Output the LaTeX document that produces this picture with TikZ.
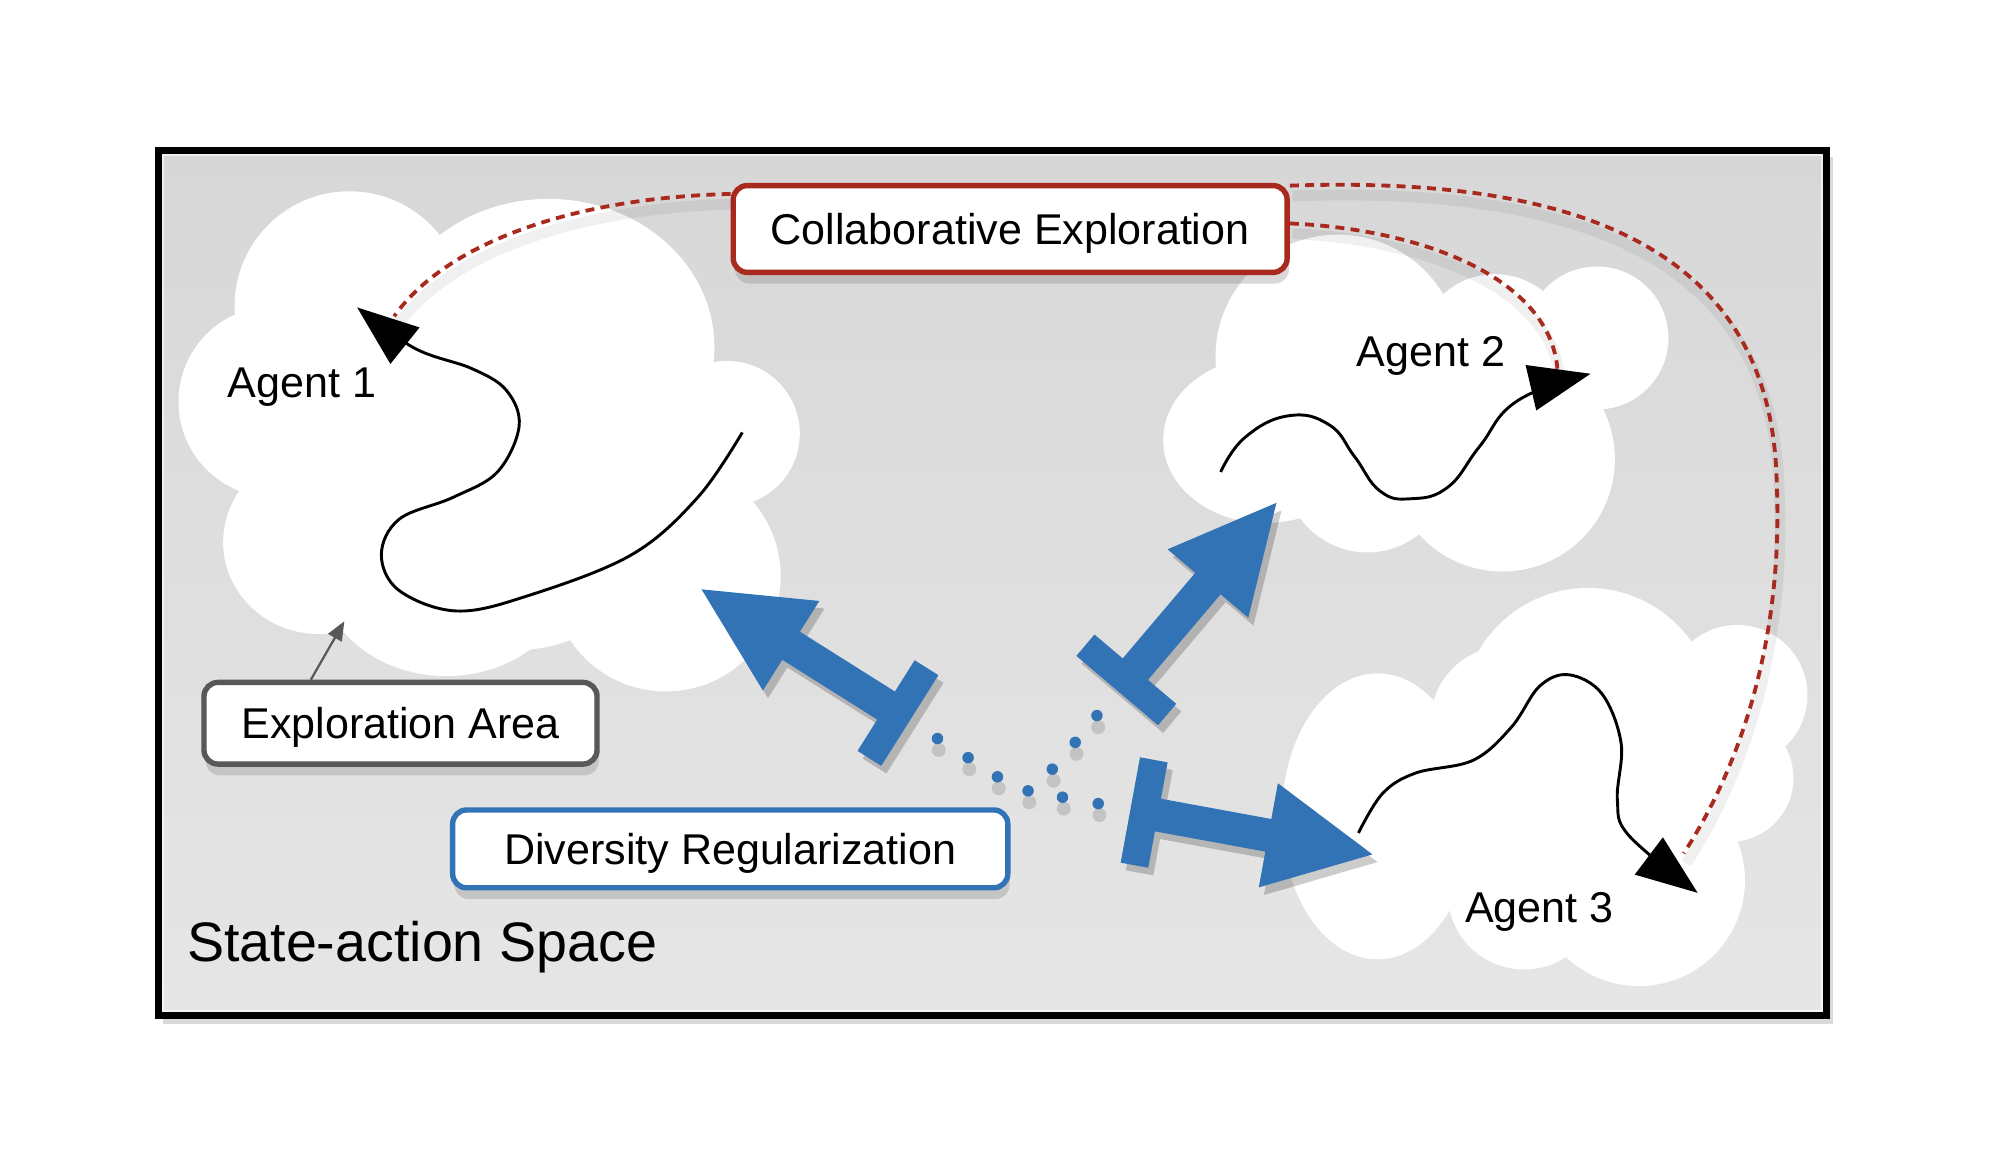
\documentclass[tikz,border=0pt]{standalone}
\usepackage{fontspec}
\setmainfont{Liberation Sans}
\usetikzlibrary{arrows.meta,shadows,calc}
\definecolor{redc}{RGB}{168,41,29}
\definecolor{bluec}{RGB}{50,115,182}
\definecolor{grayc}{RGB}{88,88,88}
\definecolor{bgtop}{RGB}{215,215,215}
\definecolor{bgbot}{RGB}{230,230,230}
\newcommand{\tbararrow}[2]{%
  \begin{scope}[shift={(#1)}, xshift=0.04cm, yshift=-0.06cm, rotate=#2]
    \fill[black, opacity=0.2] (-11,-42) -- (11,-42) -- (11,-13) -- (99,-13) -- (99,-41.5) -- (182,0) -- (99,41.5) -- (99,13) -- (11,13) -- (11,42) -- (-11,42) -- cycle;
  \end{scope}
  \begin{scope}[shift={(#1)}, rotate=#2]
    \fill[bluec] (-11,-42) -- (11,-42) -- (11,-13) -- (99,-13) -- (99,-41.5) -- (182,0) -- (99,41.5) -- (99,13) -- (11,13) -- (11,42) -- (-11,42) -- cycle;
  \end{scope}}
\begin{document}
\begin{tikzpicture}[x=0.01cm, y=-0.01cm,
  font=\fontsize{9.6}{11.5}\selectfont,
  boxnode/.style={draw, line width=1.2pt, rounded corners=0.11cm, fill=white,
    text height=6.9pt, text depth=0pt, inner sep=0pt,
    drop shadow={shadow xshift=0.4pt, shadow yshift=-2.5pt, opacity=0.3}},
  lbl/.style={inner sep=0pt},
  agentline/.style={line width=0.65pt, -{Triangle[length=4.8mm,width=3.6mm]}},
  collabline/.style={redc, line width=0.85pt, dash pattern=on 2pt off 1.4pt,
    preaction={draw=black, solid, opacity=0.06, line width=2.4pt,
      transform canvas={xshift=0.02cm, yshift=-0.08cm}}},
  cloudfill/.style={fill=white}]
\useasboundingbox (0,0) rectangle (1568,917);
\fill[white] (0,0) rectangle (1568,917);
% frame
\fill[black, opacity=0.15] (128,123) rectangle (1437,803);
\draw[line width=1.6pt, top color=bgtop, bottom color=bgbot] (124,118) rectangle (1432,796);
\draw[white, opacity=0.6, line width=0.4pt] (127.5,121.5) rectangle (1428.5,792.5);
% cloud 1
\fill[cloudfill] (274,240) circle[radius=0.9cm];
\fill[cloudfill] (430,272) ellipse[x radius=1.3cm, y radius=1.16cm];
\fill[cloudfill] (570,340) circle[radius=0.57cm];
\fill[cloudfill] (522,452) circle[radius=0.9cm];
\fill[cloudfill] (215,315) circle[radius=0.75cm];
\fill[cloudfill] (250,425) ellipse[x radius=0.75cm, y radius=0.72cm];
\fill[cloudfill] (350,445) ellipse[x radius=1.0cm, y radius=0.85cm];
\fill[cloudfill] (400,370) circle[radius=1.4cm];
% cloud 2
\fill[cloudfill] (1049,280) circle[radius=0.96cm];
\fill[cloudfill] (1172,275) circle[radius=0.6cm];
\fill[cloudfill] (1252,265) circle[radius=0.56cm];
\fill[cloudfill] (1178,360) circle[radius=0.88cm];
\fill[cloudfill] (1072,368) circle[radius=0.65cm];
\fill[cloudfill] (992,345) ellipse[x radius=0.8cm, y radius=0.65cm];
\fill[cloudfill] (1110,320) circle[radius=0.9cm];
% cloud 3
\fill[cloudfill] (1080,640) ellipse[x radius=0.75cm, y radius=1.12cm];
\fill[cloudfill] (1180,565) circle[radius=0.58cm];
\fill[cloudfill] (1245,560) circle[radius=0.99cm];
\fill[cloudfill] (1362,545) circle[radius=0.55cm];
\fill[cloudfill] (1356,610) circle[radius=0.5cm];
\fill[cloudfill] (1285,690) circle[radius=0.83cm];
\fill[cloudfill] (1195,700) circle[radius=0.6cm];
\fill[cloudfill] (1240,630) circle[radius=0.95cm];
% agent trajectories
\coordinate (t1) at (280,241);
\coordinate (t2) at (1247,293);
\coordinate (t3) at (1331,700);
\draw[agentline] plot[smooth, tension=0.6] coordinates {(582,339) (547,390) (495,435) (414,467) (358,479) (313,463) (299,435) (313,407) (355,390) (390,370) (407,334) (397,306) (370,289) (325,273) (280,241)};
\draw[agentline] plot[smooth, tension=0.75] coordinates {(957,370) (976,343) (1010,326) (1042,333) (1062,358) (1082,385) (1106,391) (1135,382) (1160,350) (1190,314) (1247,293)};
\draw[agentline] plot[smooth, tension=0.6] coordinates {(1065,653) (1084,622) (1110,606) (1155,596) (1185,570) (1207,538) (1230,529) (1256,544) (1271,583) (1268,627) (1277,655) (1331,700)};
% agent labels
\node[lbl, anchor=base west] (ag1) at (178,312) {Agent 1};
\node[lbl, anchor=base west] (ag2) at (1063,287) {Agent 2};
\node[lbl, anchor=base west] (ag3) at (1148,723) {Agent 3};
% diversity arrows
\coordinate (p1) at (704,559);
\coordinate (p2) at (883,533);
\coordinate (p3) at (897,637);
\tbararrow{p1}{147.8}
\tbararrow{p2}{49.7}
\tbararrow{p3}{-10.4}
\foreach \x/\y in {735/579,759/594,782/609,806/620,833/625,861/630,825/603,843/582,860/561} {
  \fill[black, opacity=0.13] (\x+1,\y+9) circle[radius=0.055cm];
  \fill[bluec] (\x,\y) circle[radius=0.045cm];
}
% boxes
\node[boxnode, draw=redc, minimum width=4.34cm, minimum height=0.68cm] (ce) at (792,179.5) {Collaborative Exploration};
\node[boxnode, draw=grayc, minimum width=3.08cm, minimum height=0.64cm] (ea) at (314,567) {Exploration Area};
\node[boxnode, draw=bluec, minimum width=4.35cm, minimum height=0.61cm] (dr) at (572.5,665.5) {Diversity Regularization};
% collaborative connectors
\coordinate (e1) at (309,248);
\coordinate (e2) at (1221,289);
\coordinate (e3) at (1320,669);
\draw[collabline] ($(ce.north west)!0.12!(ce.south west)$) .. controls (450,155) and (350,190) .. (e1);
\draw[collabline] ($(ce.north east)!0.44!(ce.south east)$) .. controls (1120,180) and (1215,220) .. (e2);
\draw[collabline] ($(ce.north east)!0.03!(ce.south east)$) .. controls (1230,138) and (1390,190) .. (1393,380) .. controls (1398,500) and (1365,600) .. (e3);
% exploration pointer
\coordinate (eatip) at (270,487);
\draw[grayc, line width=0.5pt, -{Triangle[length=1.5mm,width=1.2mm]}] ($(ea.north west)!0.275!(ea.north east)$) -- (eatip);
% space label
\node[lbl, anchor=base west, font=\fontsize{12.4}{14}\selectfont] (sas) at (146,754) {State-action Space};
\end{tikzpicture}
\end{document}
